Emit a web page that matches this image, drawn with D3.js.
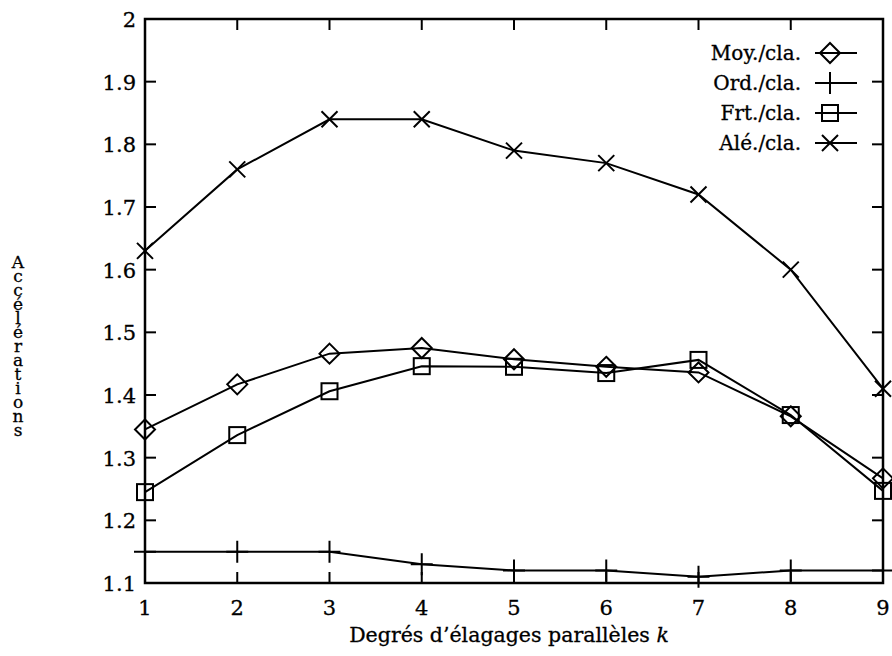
<!DOCTYPE html>
<html>
<head>
<meta charset="utf-8">
<script src="https://cdn.jsdelivr.net/npm/d3@7"></script>
<style>
  body { margin: 0; background: #fff; }
  text { font-family: "DejaVu Serif", "Liberation Serif", serif; fill: #000; stroke: #000; stroke-width: 0.3; }
</style>
</head>
<body>
<script>
// data
var degres = [1, 2, 3, 4, 5, 6, 7, 8, 9];
var moyCla = [1.345, 1.417, 1.466, 1.475, 1.457, 1.445, 1.436, 1.366, 1.267];
var ordCla = [1.15, 1.15, 1.15, 1.13, 1.12, 1.12, 1.11, 1.12, 1.12];
var frtCla = [1.245, 1.336, 1.406, 1.446, 1.445, 1.435, 1.456, 1.368, 1.247];
var aleCla = [1.63, 1.76, 1.84, 1.84, 1.79, 1.77, 1.72, 1.60, 1.41];
var yTicks = [1.1, 1.2, 1.3, 1.4, 1.5, 1.6, 1.7, 1.8, 1.9, 2];
var seriesNames = ["Moy./cla.", "Ord./cla.", "Frt./cla.", "Alé./cla."];
var seriesSymbols = ["diamond", "plus", "square", "cross"];

draw();

function draw() {
    var w = 892, h = 656;
    var pLeft = 145, pRight = 883, pTop = 19, pBottom = 583;

    var svg = d3.select("body").append("svg")
        .attr("width", w)
        .attr("height", h);

    var x = d3.scaleLinear().domain([1, 9]).range([pLeft, pRight]);
    var y = d3.scaleLinear().domain([1.1, 2]).range([pBottom, pTop]);

    var tickLen = 11;

    // frame
    svg.append("rect")
        .attr("x", pLeft).attr("y", pTop)
        .attr("width", pRight - pLeft).attr("height", pBottom - pTop)
        .attr("fill", "none").attr("stroke", "#000").attr("stroke-width", 2.5);

    // y ticks, both sides, inward
    svg.selectAll(".ytl").data(yTicks.slice(1, -1)).enter().append("line")
        .attr("x1", pLeft).attr("x2", pLeft + tickLen)
        .attr("y1", d => y(d)).attr("y2", d => y(d))
        .attr("stroke", "#000").attr("stroke-width", 2);
    svg.selectAll(".ytr").data(yTicks.slice(1, -1)).enter().append("line")
        .attr("x1", pRight).attr("x2", pRight - tickLen)
        .attr("y1", d => y(d)).attr("y2", d => y(d))
        .attr("stroke", "#000").attr("stroke-width", 2);
    svg.selectAll(".ylab").data(yTicks).enter().append("text")
        .attr("x", pLeft - 9).attr("y", d => y(d) + 8)
        .attr("text-anchor", "end")
        .attr("font-size", 21)
        .text(d => d === 2 ? "2" : d3.format(".1f")(d));

    // x ticks, bottom and top
    svg.selectAll(".xtb").data(degres.slice(1, -1)).enter().append("line")
        .attr("x1", d => x(d)).attr("x2", d => x(d))
        .attr("y1", pBottom).attr("y2", pBottom - tickLen)
        .attr("stroke", "#000").attr("stroke-width", 2);
    svg.selectAll(".xtt").data(degres.slice(1, -1)).enter().append("line")
        .attr("x1", d => x(d)).attr("x2", d => x(d))
        .attr("y1", pTop).attr("y2", pTop + tickLen)
        .attr("stroke", "#000").attr("stroke-width", 2);
    svg.selectAll(".xlab").data(degres).enter().append("text")
        .attr("x", d => x(d)).attr("y", 615)
        .attr("text-anchor", "middle")
        .attr("font-size", 21)
        .text(d => d);

    // axis titles
    var xt = svg.append("text")
        .attr("x", 509).attr("y", 642)
        .attr("text-anchor", "middle")
        .attr("font-size", 20.5)
        .text("Degrés d’élagages parallèles ");
    xt.append("tspan").attr("font-style", "italic").text("k");

    // y title: letters stacked upright
    svg.append("text")
        .attr("x", 18).attr("y", 343)
        .attr("text-anchor", "middle")
        .attr("font-size", 17)
        .style("writing-mode", "vertical-rl")
        .style("text-orientation", "upright")
        .style("letter-spacing", "-6px")
        .text("Accélérations");

    // markers
    function marker(g, type, cx, cy) {
        var s;
        if (type === "diamond") {
            s = 10;
            g.append("path").attr("d", "M" + cx + "," + (cy - s) + "L" + (cx + s) + "," + cy +
                "L" + cx + "," + (cy + s) + "L" + (cx - s) + "," + cy + "Z");
        } else if (type === "square") {
            s = 8;
            g.append("rect").attr("x", cx - s).attr("y", cy - s).attr("width", 2 * s).attr("height", 2 * s);
        } else if (type === "plus") {
            s = 11;
            g.append("path").attr("d", "M" + cx + "," + (cy - s) + "V" + (cy + s) + "M" + (cx - s) + "," + cy + "H" + (cx + s));
        } else {
            s = 8;
            g.append("path").attr("d", "M" + (cx - s) + "," + (cy - s) + "L" + (cx + s) + "," + (cy + s) +
                "M" + (cx - s) + "," + (cy + s) + "L" + (cx + s) + "," + (cy - s));
        }
    }

    var allSeries = [moyCla, ordCla, frtCla, aleCla];
    var line = d3.line().x((d, i) => x(degres[i])).y(d => y(d));

    allSeries.forEach(function (vals, si) {
        svg.append("path")
            .attr("d", line(vals))
            .attr("fill", "none").attr("stroke", "#000").attr("stroke-width", 2);
        var g = svg.append("g")
            .attr("fill", "none").attr("stroke", "#000").attr("stroke-width", 2);
        vals.forEach(function (v, i) { marker(g, seriesSymbols[si], x(degres[i]), y(v)); });
    });

    // legend
    seriesNames.forEach(function (name, i) {
        var ly = 53 + i * 30;
        svg.append("text")
            .attr("x", 801).attr("y", ly + 7)
            .attr("text-anchor", "end")
            .attr("font-size", 20)
            .text(name);
        svg.append("line")
            .attr("x1", 815).attr("x2", 857)
            .attr("y1", ly).attr("y2", ly)
            .attr("stroke", "#000").attr("stroke-width", 2);
        var g = svg.append("g")
            .attr("fill", "none").attr("stroke", "#000").attr("stroke-width", 2);
        marker(g, seriesSymbols[i], 830, ly);
    });
}
</script>
</body>
</html>
